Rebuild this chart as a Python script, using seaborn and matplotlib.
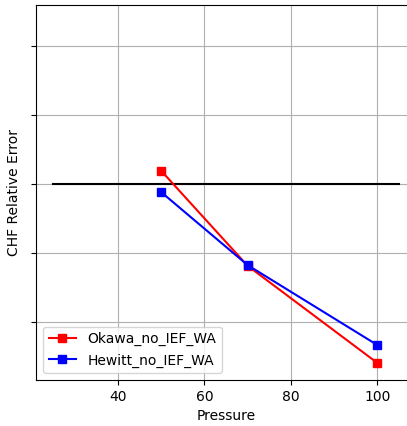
import matplotlib
matplotlib.use("Agg")
import matplotlib.pyplot as plt
import seaborn as sns

# Daten
pressure = [50, 70, 100]
okawa_err = [0.019, -0.119, -0.260]
hewitt_err = [-0.012, -0.118, -0.234]
ref_x = [25, 105]
ref_y = [0.0, 0.0]
y_ticks = [-0.2, -0.1, 0.0, 0.1, 0.2]

fig = plt.figure(figsize=(4.07, 4.26), dpi=100)
ax = fig.add_axes([36 / 407, 1 - 380 / 426, (416 - 36) / 407, (380 - 5) / 426])

sns.lineplot(x=ref_x, y=ref_y, color="black", linewidth=1.5, ax=ax)
sns.lineplot(x=pressure, y=okawa_err, color="red", marker="s", markersize=6,
             markeredgecolor="red", markeredgewidth=1, linewidth=1.5,
             label="Okawa_no_IEF_WA", ax=ax)
sns.lineplot(x=pressure, y=hewitt_err, color="blue", marker="s", markersize=6,
             markeredgecolor="blue", markeredgewidth=1, linewidth=1.5,
             label="Hewitt_no_IEF_WA", ax=ax)

ax.set_xlim(21, 109)
ax.set_ylim(-0.285, 0.26)
ax.set_xticks([40, 60, 80, 100])
ax.set_yticks(y_ticks)
ax.set_yticklabels([])
ax.grid(True, color="#b0b0b0", linewidth=0.8)
ax.set_xlabel("Pressure")
ax.set_ylabel("CHF Relative Error")
ax.legend(loc="lower left")

fig.savefig("out.png", dpi=100)
